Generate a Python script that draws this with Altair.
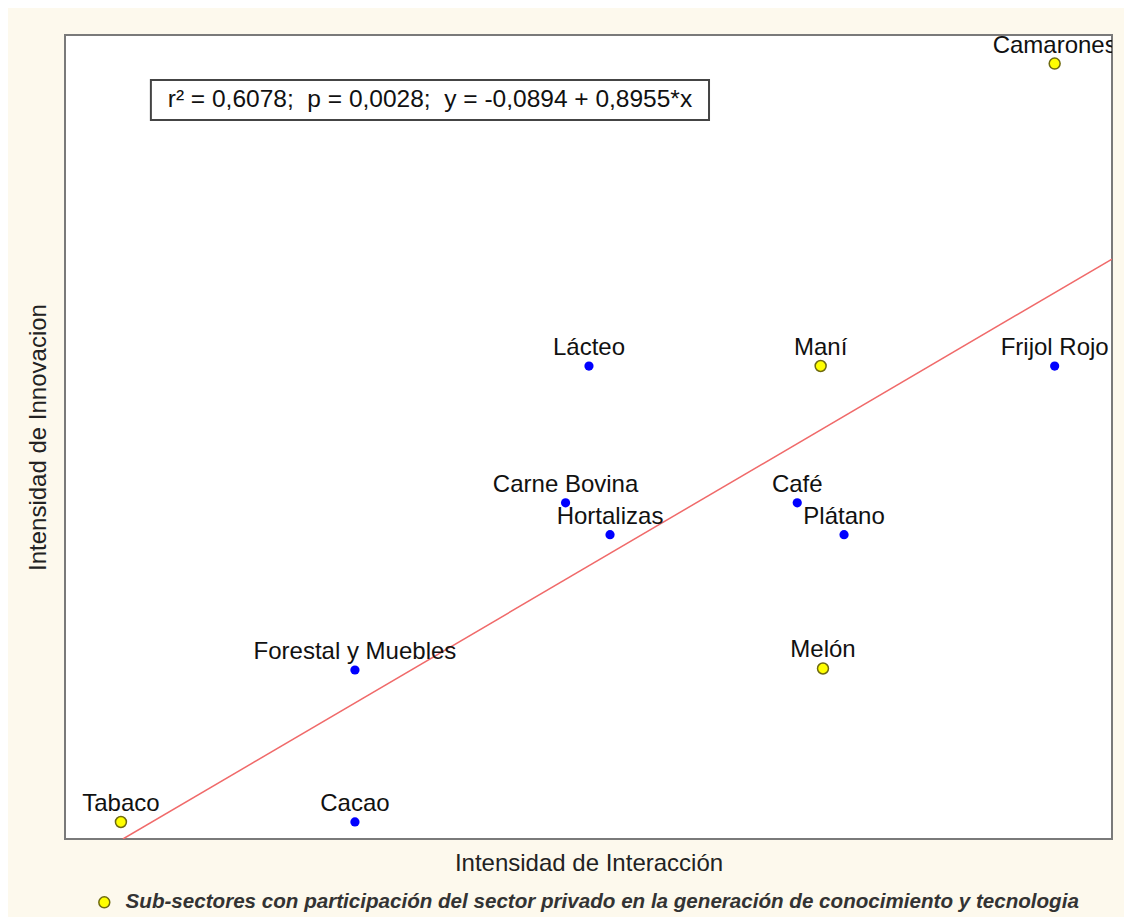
import altair as alt
import pandas as pd

# ---- data ----
names = ["Tabaco", "Cacao", "Forestal y Muebles", "Carne Bovina", "Hortalizas", "Lácteo",
         "Café", "Plátano", "Maní", "Melón", "Frijol Rojo", "Camarones"]
interaccion = [1.00, 2.00, 2.00, 2.90, 3.09, 3.00, 3.89, 4.09, 3.99, 4.00, 4.99, 4.99]
innovacion = [1.00, 1.00, 2.00, 3.10, 2.89, 4.00, 3.10, 2.89, 4.00, 2.01, 4.00, 5.99]
privado = [True, False, False, False, False, False, False, False, True, True, False, True]

# regression line end points (as drawn)
line_x = [1.0085, 5.235]
line_y = [0.888, 4.704]

# statistics box
stats_text = "r² = 0,6078;\u00a0 p = 0,0028;\u00a0 y = -0,0894 + 0,8955*x"
box_x = [1.128, 3.513]
box_y = [5.618, 5.882]

legend_label = "Sub-sectores con participación del sector privado en la generación de conocimiento y tecnologia"

x_domain = [0.761, 5.235]
y_domain = [0.888, 6.178]

FONT = "Liberation Sans"

df = pd.DataFrame({"name": names, "x": interaccion, "y": innovacion, "priv": privado})
df["grupo"] = [legend_label if p else "otro" for p in privado]
df_blue = df[~df["priv"]]
df_yel = df[df["priv"]]
df_line = pd.DataFrame({"x": line_x, "y": line_y})
df_box = pd.DataFrame({"x": [box_x[0]], "x2": [box_x[1]], "y": [box_y[0]], "y2": [box_y[1]],
                       "xc": [(box_x[0] + box_x[1]) / 2], "yc": [(box_y[0] + box_y[1]) / 2],
                       "t": [stats_text]})

xs = alt.Scale(domain=x_domain, nice=False, zero=False)
ys = alt.Scale(domain=y_domain, nice=False, zero=False)


def X(field):
    return alt.X(field, type="quantitative", scale=xs, title="Intensidad de Interacción",
                 axis=alt.Axis(labels=False, ticks=False, domain=False, grid=False,
                               titleFont=FONT, titleFontSize=24, titleFontWeight="normal",
                               titleColor="#222222", titlePadding=12))


def Y(field):
    return alt.Y(field, type="quantitative", scale=ys, title="Intensidad de Innovacion",
                 axis=alt.Axis(labels=False, ticks=False, domain=False, grid=False,
                               titleFont=FONT, titleFontSize=24, titleFontWeight="normal",
                               titleColor="#222222", titlePadding=15))


line = alt.Chart(df_line).mark_line(color="#f06a6a", strokeWidth=1.5, clip=True).encode(
    x=X("x"), y=Y("y"))

box = alt.Chart(df_box).mark_rect(fill="white", stroke="#444444", strokeWidth=2).encode(
    x=X("x"), x2="x2", y=Y("y"), y2="y2")

box_text = alt.Chart(df_box).mark_text(font=FONT, fontSize=24.5, color="#111111",
                                       align="center", baseline="middle").encode(
    x=X("xc"), y=Y("yc"), text="t:N")

blue = alt.Chart(df_blue).mark_point(shape="circle", filled=True, size=85, color="#0000ff",
                                     opacity=1).encode(x=X("x"), y=Y("y"))

yellow = alt.Chart(df_yel).mark_point(shape="circle", filled=True, size=120, stroke="#6e6a10",
                                      strokeWidth=1.5, opacity=1).encode(
    x=X("x"), y=Y("y"),
    fill=alt.Fill("grupo:N", scale=alt.Scale(domain=[legend_label], range=["#ffff00"]),
                  legend=alt.Legend(title=None, orient="none", legendX=29, legendY=857,
                                    symbolType="circle", symbolSize=120,
                                    symbolStrokeColor="#6e6a10", symbolStrokeWidth=1.5,
                                    symbolFillColor="#ffff00",
                                    labelFont=FONT, labelFontSize=20.6, labelFontStyle="italic",
                                    labelFontWeight="bold", labelColor="#333333", labelLimit=2000,
                                    labelOffset=11, padding=0)))

labels = alt.Chart(df).mark_text(font=FONT, fontSize=24, color="#111111", align="center",
                                 baseline="alphabetic", dy=-11, clip=True).encode(
    x=X("x"), y=Y("y"), text="name:N")

chart = alt.layer(line, box, box_text, blue, yellow, labels).properties(
    width=1047, height=804,
    autosize=alt.AutoSizeParams(type="none"),
    padding={"left": 57, "top": 27, "right": 12, "bottom": 78},
    background="#fdf9ed",
).configure_view(stroke="#7a7a7a", strokeWidth=2, fill="white")

chart.save("out.html", embed_options={"renderer": "svg", "actions": False})
